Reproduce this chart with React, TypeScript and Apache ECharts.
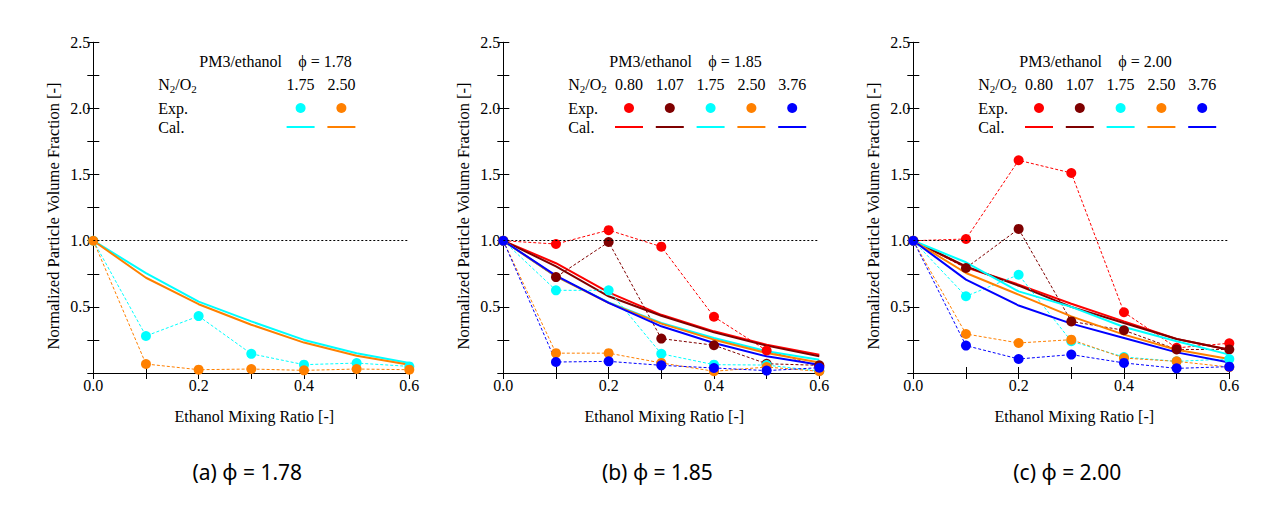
import React, { useEffect, useRef } from "react";
import * as echarts from "echarts";

// ethanol mixing ratio (x positions shared by every series)
const mixRatio = [0, 0.1, 0.2, 0.3, 0.4, 0.5, 0.6];

const n2o2Labels = ["0.80", "1.07", "1.75", "2.50", "3.76"];
const groupColors = ["#ff0000", "#7f0000", "#00ffff", "#ff8000", "#0000ff"];
const phiValues = ["1.78", "1.85", "2.00"];
const panelTags = ["(a)", "(b)", "(c)"];

// (a) phi = 1.78
const expA175 = [1.0, 0.28, 0.43, 0.145, 0.063, 0.075, 0.05];
const expA250 = [1.0, 0.068, 0.025, 0.03, 0.02, 0.03, 0.025];
const calA175 = [1.0, 0.755, 0.54, 0.39, 0.25, 0.15, 0.075];
const calA250 = [1.0, 0.72, 0.52, 0.365, 0.23, 0.13, 0.063];

// (b) phi = 1.85
const expB080 = [1.0, 0.975, 1.08, 0.955, 0.425, 0.17, 0.05];
const expB107 = [1.0, 0.725, 0.99, 0.26, 0.21, 0.07, 0.058];
const expB175 = [1.0, 0.625, 0.625, 0.145, 0.063, 0.06, 0.015];
const expB250 = [1.0, 0.15, 0.15, 0.076, 0.013, 0.045, 0.013];
const expB376 = [1.0, 0.083, 0.088, 0.058, 0.038, 0.018, 0.04];
const calB080 = [1.0, 0.83, 0.61, 0.44, 0.315, 0.214, 0.139];
const calB107 = [1.0, 0.806, 0.58, 0.433, 0.307, 0.207, 0.126];
const calB175 = [1.0, 0.73, 0.534, 0.378, 0.265, 0.164, 0.1];
const calB250 = [1.0, 0.73, 0.53, 0.373, 0.252, 0.151, 0.08];
const calB376 = [1.0, 0.736, 0.53, 0.353, 0.227, 0.126, 0.063];

// (c) phi = 2.00
const expC080 = [1.0, 1.013, 1.608, 1.512, 0.459, 0.19, 0.225];
const expC107 = [1.0, 0.794, 1.089, 0.39, 0.323, 0.178, 0.178];
const expC175 = [1.0, 0.58, 0.743, 0.24, 0.121, 0.088, 0.106];
const expC250 = [1.0, 0.295, 0.227, 0.252, 0.113, 0.088, 0.045];
const expC376 = [1.0, 0.207, 0.106, 0.139, 0.076, 0.035, 0.048];
const calC080 = [1.0, 0.8, 0.668, 0.524, 0.39, 0.257, 0.176];
const calC107 = [1.0, 0.806, 0.66, 0.5, 0.378, 0.257, 0.176];
const calC175 = [1.0, 0.837, 0.617, 0.5, 0.348, 0.24, 0.139];
const calC250 = [1.0, 0.756, 0.592, 0.428, 0.29, 0.176, 0.106];
const calC376 = [1.0, 0.706, 0.51, 0.373, 0.265, 0.156, 0.08];

// group index refers to n2o2Labels / groupColors
const panelGroups = [
  [
    { group: 2, exp: expA175, cal: calA175 },
    { group: 3, exp: expA250, cal: calA250 },
  ],
  [
    { group: 0, exp: expB080, cal: calB080 },
    { group: 1, exp: expB107, cal: calB107 },
    { group: 2, exp: expB175, cal: calB175 },
    { group: 3, exp: expB250, cal: calB250 },
    { group: 4, exp: expB376, cal: calB376 },
  ],
  [
    { group: 0, exp: expC080, cal: calC080 },
    { group: 1, exp: expC107, cal: calC107 },
    { group: 2, exp: expC175, cal: calC175 },
    { group: 3, exp: expC250, cal: calC250 },
    { group: 4, exp: expC376, cal: calC376 },
  ],
];

const SERIF = "'Liberation Serif', 'Times New Roman', serif";
const PLOT_LEFT = [93.3, 503.3, 913.3];
const PLOT_TOP = 42.3;
const PLOT_W = 316;
const PLOT_H = 330.7;

const pairs = (ys: number[]) => ys.map((y, i) => [mixRatio[i], y]);

const App = () => {
  const chartRef = useRef<HTMLDivElement>(null);

  useEffect(() => {
    if (!chartRef.current) return;
    const chart = echarts.init(chartRef.current, null, { renderer: "svg" });

    const axisCommon = {
      axisLine: { lineStyle: { color: "#000", width: 1 } },
      axisTick: { inside: true, length: 6, lineStyle: { color: "#000" } },
      splitLine: { show: false },
    };

    const xAxes: any[] = [];
    const yAxes: any[] = [];
    const series: any[] = [];
    const graphic: any[] = [];

    PLOT_LEFT.forEach((left, p) => {
      ["bottom", "top"].forEach((pos) => {
        xAxes.push({
          ...axisCommon,
          gridIndex: p,
          type: "value",
          position: pos,
          min: 0,
          max: 0.6,
          interval: 0.1,
          axisLabel: {
            show: pos === "bottom",
            margin: 4,
            color: "#000",
            fontFamily: SERIF,
            fontSize: 16,
            formatter: (v: number) =>
              Math.round(v * 10) % 2 === 0 ? v.toFixed(1) : "",
          },
        });
      });
      ["left", "right"].forEach((pos) => {
        yAxes.push({
          ...axisCommon,
          gridIndex: p,
          type: "value",
          position: pos,
          min: 0,
          max: 2.5,
          interval: 0.25,
          axisLabel: {
            show: pos === "left",
            margin: 3,
            color: "#000",
            fontFamily: SERIF,
            fontSize: 16,
            formatter: (v: number) =>
              v > 0 && Math.round(v * 4) % 2 === 0 ? v.toFixed(1) : "",
          },
        });
      });

      panelGroups[p].forEach((g, k) => {
        const color = groupColors[g.group];
        series.push({
          type: "line",
          xAxisIndex: p * 2,
          yAxisIndex: p * 2,
          data: pairs(g.exp),
          symbol: "circle",
          symbolSize: 10,
          clip: false,
          itemStyle: { color },
          lineStyle: { color, width: 1, type: [3, 2] },
          markLine:
            k === 0
              ? {
                  silent: true,
                  symbol: "none",
                  label: { show: false },
                  lineStyle: { color: "#000", width: 1, type: [2, 2] },
                  data: [{ yAxis: 1 }],
                }
              : undefined,
        });
        series.push({
          type: "line",
          xAxisIndex: p * 2,
          yAxisIndex: p * 2,
          data: pairs(g.cal),
          showSymbol: false,
          symbol: "none",
          lineStyle: { color, width: 2 },
        });
      });

      // legend block
      const colX = (i: number) => left + 125.7 + 40.8 * i;
      const txt = (text: string, x: number, y: number, align = "left") => ({
        type: "text",
        x,
        y,
        silent: true,
        style: {
          text,
          fill: "#000",
          fontFamily: SERIF,
          fontSize: 16,
          align,
          verticalAlign: "middle",
          textAlign: align,
          textVerticalAlign: "middle",
        },
      });
      graphic.push(txt("PM3/ethanol", left + 106, 61));
      graphic.push(txt("\u03d5 = " + phiValues[p], left + 205, 61));
      graphic.push({
        type: "text",
        x: left + 65,
        y: 84,
        silent: true,
        style: {
          text: "N{s|2}/O{s|2}",
          fill: "#000",
          fontFamily: SERIF,
          fontSize: 16,
          verticalAlign: "middle",
          textVerticalAlign: "middle",
          rich: {
            s: { fontFamily: SERIF, fontSize: 11, padding: [9, 0, 0, 0] },
          },
        },
      });
      graphic.push(txt("Exp.", left + 65, 108));
      graphic.push(txt("Cal.", left + 65, 127));
      panelGroups[p].forEach((g) => {
        const cx = colX(g.group);
        const color = groupColors[g.group];
        graphic.push(txt(n2o2Labels[g.group], cx, 84, "center"));
        graphic.push({
          type: "circle",
          silent: true,
          shape: { cx, cy: 108, r: 5 },
          style: { fill: color },
        });
        graphic.push({
          type: "line",
          silent: true,
          shape: { x1: cx - 14, y1: 127, x2: cx + 14, y2: 127 },
          style: { stroke: color, lineWidth: 2 },
        });
      });

      // axis titles and caption
      graphic.push({
        type: "text",
        x: left - 40,
        y: 216,
        rotation: Math.PI / 2,
        silent: true,
        style: {
          text: "Normalized Particle Volume Fraction [-]",
          fill: "#000",
          fontFamily: SERIF,
          fontSize: 16.5,
          align: "center",
          verticalAlign: "middle",
          textAlign: "center",
          textVerticalAlign: "middle",
        },
      });
      graphic.push({
        ...txt("Ethanol Mixing Ratio [-]", left + 161, 416, "center"),
      });
      graphic.push({
        type: "text",
        x: left + 154,
        y: 472,
        silent: true,
        style: {
          text: panelTags[p] + " \u03c6 = " + phiValues[p],
          fill: "#000",
          fontFamily: "'Noto Sans', sans-serif",
          fontSize: 21,
          align: "center",
          verticalAlign: "middle",
          textAlign: "center",
          textVerticalAlign: "middle",
        },
      });
    });

    const option = {
      animation: false,
      backgroundColor: "#fff",
      grid: PLOT_LEFT.map((left) => ({
        left,
        top: PLOT_TOP,
        width: PLOT_W,
        height: PLOT_H,
      })),
      xAxis: xAxes,
      yAxis: yAxes,
      series,
      graphic,
    };

    chart.setOption(option);

    const handleResize = () => chart.resize();
    window.addEventListener("resize", handleResize);
    return () => {
      window.removeEventListener("resize", handleResize);
      chart.dispose();
    };
  }, []);

  return (
    <div
      ref={chartRef}
      style={{ position: "fixed", left: 0, top: 0, width: 1288, height: 509 }}
    />
  );
};

export default App;
